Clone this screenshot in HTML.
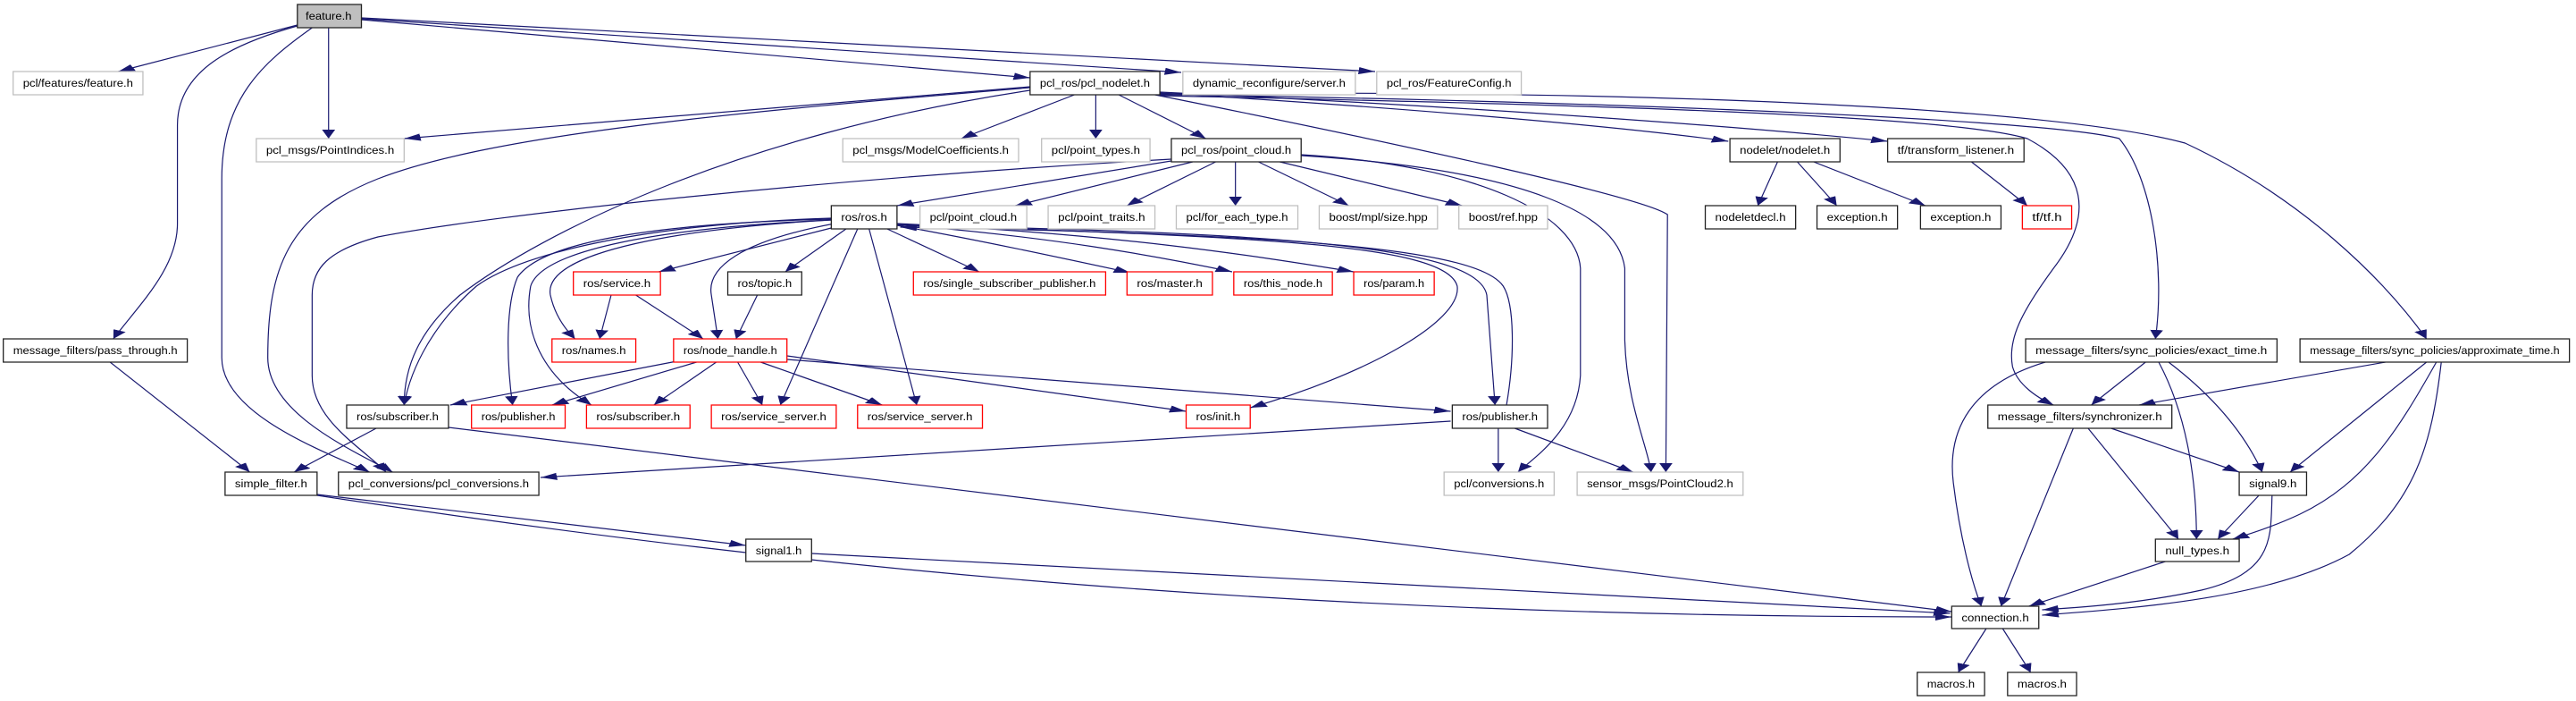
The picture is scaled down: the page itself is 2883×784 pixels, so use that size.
<!DOCTYPE html>
<html><head><meta charset="utf-8"><style>
html,body{margin:0;padding:0;background:#fff}
svg{display:block}
text{font-family:"Liberation Sans",Arial,sans-serif;font-size:12px;fill:#000}
.e path{fill:none;stroke:#191970;stroke-width:1.2;vector-effect:non-scaling-stroke}
rect{vector-effect:non-scaling-stroke;stroke-width:1.3}
.b{fill:#fff;stroke:#222}
.g{fill:#fff;stroke:#bfbfbf}
.r{fill:#fff;stroke:#ff0000}
.f{fill:#bfbfbf;stroke:#222}
</style></head><body>
<svg width="2883" height="784" viewBox="0 0 1568 784" preserveAspectRatio="none" xmlns="http://www.w3.org/2000/svg">
<defs><marker id="a" markerUnits="userSpaceOnUse" markerWidth="12" markerHeight="10" refX="10" refY="4" orient="auto"><path d="M0,0 L10,4 L0,8 Z" fill="#191970" stroke="none"/></marker></defs>
<g class="e" marker-end="url(#a)">
<path d="M181,28 L72,80"/>
<path d="M181,29 C140,50 108,80 108,140 L108,250 C108,300 85,340 69,379"/>
<path d="M190,31 C160,70 135,110 135,200 L135,400 C135,460 190,500 225,528"/>
<path d="M200,31 L200,155"/>
<path d="M220,22 L627,87"/>
<path d="M220,21 L719,81"/>
<path d="M220,20 L837,80"/>
<path d="M627,97 L246,155"/>
<path d="M654,106 L585,155"/>
<path d="M667,106 L667,155"/>
<path d="M681,106 L734,155"/>
<path d="M627,101 C450,150 330,260 280,330 C255,370 246,410 246,453"/>
<path d="M627,98 C450,125 300,150 230,200 C175,240 163,300 163,400 C163,460 210,500 239,528"/>
<path d="M713,178 C500,200 300,240 230,265 C200,280 190,300 190,330 L190,420 C190,470 220,500 235,528"/>
<path d="M703,106 C850,160 1000,220 1015,240 L1014,528"/>
<path d="M706,104 C850,120 980,140 1052,158"/>
<path d="M706,103 C900,120 1050,140 1149,158"/>
<path d="M706,107 C900,115 1180,125 1234,155 C1270,190 1275,240 1250,300 C1230,350 1222,380 1225,410 C1228,430 1240,445 1250,453"/>
<path d="M706,106 C900,110 1240,130 1290,155 C1310,200 1318,300 1312,379"/>
<path d="M706,105 C1000,100 1250,120 1330,160 C1400,220 1450,310 1477,379"/>
<path d="M713,180 L546,230"/>
<path d="M726,181 L618,230"/>
<path d="M740,181 L686,230"/>
<path d="M752,181 L752,230"/>
<path d="M766,181 L821,230"/>
<path d="M779,181 L890,230"/>
<path d="M792,173 C900,185 960,240 962,300 L962,420 C960,480 935,510 924,528"/>
<path d="M792,174 C930,190 985,240 989,300 L989,380 C990,450 1003,500 1005,528"/>
<path d="M506,255 L401,304"/>
<path d="M515,256 L478,304"/>
<path d="M506,246 C420,255 330,280 335,330 C338,355 345,370 350,379"/>
<path d="M508,250 C450,270 430,300 433,330 L437,379"/>
<path d="M522,256 L475,453"/>
<path d="M529,256 C540,330 550,400 558,453"/>
<path d="M540,256 L596,304"/>
<path d="M546,252 C600,270 650,290 688,305"/>
<path d="M546,251 C640,265 700,285 750,304"/>
<path d="M546,250 C680,262 760,285 824,304"/>
<path d="M546,251 C750,265 880,270 887,320 C890,360 830,420 761,456"/>
<path d="M546,252 C800,260 900,280 905,330 L910,453"/>
<path d="M917,453 C922,400 922,340 915,320 C900,280 800,262 548,254"/>
<path d="M506,244 C400,250 320,280 290,320 C265,360 250,410 246,453"/>
<path d="M506,245 C400,250 330,270 315,310 C308,340 308,400 312,453"/>
<path d="M506,246 C400,255 330,280 323,320 C318,370 330,420 360,453"/>
<path d="M372,330 L365,379"/>
<path d="M387,330 L428,379"/>
<path d="M461,330 L448,379"/>
<path d="M412,404 L274,453"/>
<path d="M424,405 L336,453"/>
<path d="M436,405 L398,453"/>
<path d="M449,405 L464,453"/>
<path d="M463,405 L537,453"/>
<path d="M479,398 L722,460"/>
<path d="M479,402 L883,460"/>
<path d="M229,479 L179,528"/>
<path d="M273,478 L1188,684"/>
<path d="M883,471 L329,534"/>
<path d="M912,479 L912,528"/>
<path d="M922,479 L994,528"/>
<path d="M67,405 L152,528"/>
<path d="M193,553 L454,610"/>
<path d="M193,554 C500,640 800,690 1188,690"/>
<path d="M494,619 L1187,686"/>
<path d="M1306,405 L1273,453"/>
<path d="M1245,405 C1200,430 1185,480 1189,540 C1193,600 1200,650 1206,678"/>
<path d="M1314,405 C1330,460 1337,530 1337,603"/>
<path d="M1320,405 C1345,440 1365,480 1377,528"/>
<path d="M1452,405 L1302,453"/>
<path d="M1477,405 L1394,528"/>
<path d="M1483,405 C1460,480 1440,540 1400,575 C1385,588 1370,597 1359,603"/>
<path d="M1486,405 C1480,500 1470,560 1430,620 C1380,670 1300,680 1243,688"/>
<path d="M1262,479 L1218,678"/>
<path d="M1271,479 L1326,603"/>
<path d="M1285,479 L1363,528"/>
<path d="M1375,554 L1350,603"/>
<path d="M1383,554 C1382,600 1385,640 1340,660 C1310,672 1280,678 1243,682"/>
<path d="M1318,628 L1235,678"/>
<path d="M1209,703 L1192,752"/>
<path d="M1219,703 L1236,752"/>
<path d="M1082,181 L1070,230"/>
<path d="M1094,181 L1118,230"/>
<path d="M1104,181 L1172,230"/>
<path d="M1200,181 L1234,230"/>
</g>
<g>
<rect class="f" x="181" y="5" width="39" height="26"/><text x="186" y="22" textLength="28" lengthAdjust="spacingAndGlyphs">feature.h</text>
<rect class="g" x="8" y="80" width="79" height="26"/><text x="14" y="97" textLength="67" lengthAdjust="spacingAndGlyphs">pcl/features/feature.h</text>
<rect class="g" x="156" y="155" width="90" height="26"/><text x="162" y="172" textLength="78" lengthAdjust="spacingAndGlyphs">pcl_msgs/PointIndices.h</text>
<rect class="b" x="2" y="379" width="112" height="26"/><text x="8" y="396" textLength="100" lengthAdjust="spacingAndGlyphs">message_filters/pass_through.h</text>
<rect class="b" x="627" y="80" width="79" height="26"/><text x="633" y="97" textLength="67" lengthAdjust="spacingAndGlyphs">pcl_ros/pcl_nodelet.h</text>
<rect class="g" x="720" y="80" width="105" height="26"/><text x="726" y="97" textLength="93" lengthAdjust="spacingAndGlyphs">dynamic_reconfigure/server.h</text>
<rect class="g" x="838" y="80" width="88" height="26"/><text x="844" y="97" textLength="76" lengthAdjust="spacingAndGlyphs">pcl_ros/FeatureConfig.h</text>
<rect class="g" x="513" y="155" width="107" height="26"/><text x="519" y="172" textLength="95" lengthAdjust="spacingAndGlyphs">pcl_msgs/ModelCoefficients.h</text>
<rect class="g" x="634" y="155" width="66" height="26"/><text x="640" y="172" textLength="54" lengthAdjust="spacingAndGlyphs">pcl/point_types.h</text>
<rect class="b" x="713" y="155" width="79" height="26"/><text x="719" y="172" textLength="67" lengthAdjust="spacingAndGlyphs">pcl_ros/point_cloud.h</text>
<rect class="b" x="1053" y="155" width="67" height="26"/><text x="1059" y="172" textLength="55" lengthAdjust="spacingAndGlyphs">nodelet/nodelet.h</text>
<rect class="b" x="1149" y="155" width="83" height="26"/><text x="1155" y="172" textLength="71" lengthAdjust="spacingAndGlyphs">tf/transform_listener.h</text>
<rect class="b" x="506" y="230" width="40" height="26"/><text x="512" y="247" textLength="28" lengthAdjust="spacingAndGlyphs">ros/ros.h</text>
<rect class="g" x="560" y="230" width="65" height="26"/><text x="566" y="247" textLength="53" lengthAdjust="spacingAndGlyphs">pcl/point_cloud.h</text>
<rect class="g" x="638" y="230" width="65" height="26"/><text x="644" y="247" textLength="53" lengthAdjust="spacingAndGlyphs">pcl/point_traits.h</text>
<rect class="g" x="716" y="230" width="74" height="26"/><text x="722" y="247" textLength="62" lengthAdjust="spacingAndGlyphs">pcl/for_each_type.h</text>
<rect class="g" x="803" y="230" width="72" height="26"/><text x="809" y="247" textLength="60" lengthAdjust="spacingAndGlyphs">boost/mpl/size.hpp</text>
<rect class="g" x="888" y="230" width="54" height="26"/><text x="894" y="247" textLength="42" lengthAdjust="spacingAndGlyphs">boost/ref.hpp</text>
<rect class="b" x="1038" y="230" width="55" height="26"/><text x="1044" y="247" textLength="43" lengthAdjust="spacingAndGlyphs">nodeletdecl.h</text>
<rect class="b" x="1106" y="230" width="49" height="26"/><text x="1112" y="247" textLength="37" lengthAdjust="spacingAndGlyphs">exception.h</text>
<rect class="b" x="1169" y="230" width="49" height="26"/><text x="1175" y="247" textLength="37" lengthAdjust="spacingAndGlyphs">exception.h</text>
<rect class="r" x="1231" y="230" width="30" height="26"/><text x="1237" y="247" textLength="18" lengthAdjust="spacingAndGlyphs">tf/tf.h</text>
<rect class="r" x="349" y="304" width="53" height="26"/><text x="355" y="321" textLength="41" lengthAdjust="spacingAndGlyphs">ros/service.h</text>
<rect class="b" x="443" y="304" width="45" height="26"/><text x="449" y="321" textLength="33" lengthAdjust="spacingAndGlyphs">ros/topic.h</text>
<rect class="r" x="556" y="304" width="117" height="26"/><text x="562" y="321" textLength="105" lengthAdjust="spacingAndGlyphs">ros/single_subscriber_publisher.h</text>
<rect class="r" x="686" y="304" width="52" height="26"/><text x="692" y="321" textLength="40" lengthAdjust="spacingAndGlyphs">ros/master.h</text>
<rect class="r" x="751" y="304" width="60" height="26"/><text x="757" y="321" textLength="48" lengthAdjust="spacingAndGlyphs">ros/this_node.h</text>
<rect class="r" x="824" y="304" width="49" height="26"/><text x="830" y="321" textLength="37" lengthAdjust="spacingAndGlyphs">ros/param.h</text>
<rect class="r" x="336" y="379" width="51" height="26"/><text x="342" y="396" textLength="39" lengthAdjust="spacingAndGlyphs">ros/names.h</text>
<rect class="r" x="410" y="379" width="69" height="26"/><text x="416" y="396" textLength="57" lengthAdjust="spacingAndGlyphs">ros/node_handle.h</text>
<rect class="b" x="1233" y="379" width="153" height="26"/><text x="1239" y="396" textLength="141" lengthAdjust="spacingAndGlyphs">message_filters/sync_policies/exact_time.h</text>
<rect class="b" x="1400" y="379" width="164" height="26"/><text x="1406" y="396" textLength="152" lengthAdjust="spacingAndGlyphs">message_filters/sync_policies/approximate_time.h</text>
<rect class="b" x="211" y="453" width="62" height="26"/><text x="217" y="470" textLength="50" lengthAdjust="spacingAndGlyphs">ros/subscriber.h</text>
<rect class="r" x="287" y="453" width="57" height="26"/><text x="293" y="470" textLength="45" lengthAdjust="spacingAndGlyphs">ros/publisher.h</text>
<rect class="r" x="357" y="453" width="63" height="26"/><text x="363" y="470" textLength="51" lengthAdjust="spacingAndGlyphs">ros/subscriber.h</text>
<rect class="r" x="433" y="453" width="76" height="26"/><text x="439" y="470" textLength="64" lengthAdjust="spacingAndGlyphs">ros/service_server.h</text>
<rect class="r" x="522" y="453" width="76" height="26"/><text x="528" y="470" textLength="64" lengthAdjust="spacingAndGlyphs">ros/service_server.h</text>
<rect class="r" x="722" y="453" width="39" height="26"/><text x="728" y="470" textLength="27" lengthAdjust="spacingAndGlyphs">ros/init.h</text>
<rect class="b" x="884" y="453" width="58" height="26"/><text x="890" y="470" textLength="46" lengthAdjust="spacingAndGlyphs">ros/publisher.h</text>
<rect class="b" x="1210" y="453" width="112" height="26"/><text x="1216" y="470" textLength="100" lengthAdjust="spacingAndGlyphs">message_filters/synchronizer.h</text>
<rect class="b" x="137" y="528" width="56" height="26"/><text x="143" y="545" textLength="44" lengthAdjust="spacingAndGlyphs">simple_filter.h</text>
<rect class="b" x="206" y="528" width="122" height="26"/><text x="212" y="545" textLength="110" lengthAdjust="spacingAndGlyphs">pcl_conversions/pcl_conversions.h</text>
<rect class="g" x="879" y="528" width="67" height="26"/><text x="885" y="545" textLength="55" lengthAdjust="spacingAndGlyphs">pcl/conversions.h</text>
<rect class="g" x="960" y="528" width="101" height="26"/><text x="966" y="545" textLength="89" lengthAdjust="spacingAndGlyphs">sensor_msgs/PointCloud2.h</text>
<rect class="b" x="1363" y="528" width="41" height="26"/><text x="1369" y="545" textLength="29" lengthAdjust="spacingAndGlyphs">signal9.h</text>
<rect class="b" x="454" y="603" width="40" height="25"/><text x="460" y="620" textLength="28" lengthAdjust="spacingAndGlyphs">signal1.h</text>
<rect class="b" x="1312" y="603" width="51" height="25"/><text x="1318" y="620" textLength="39" lengthAdjust="spacingAndGlyphs">null_types.h</text>
<rect class="b" x="1188" y="678" width="53" height="25"/><text x="1194" y="695" textLength="41" lengthAdjust="spacingAndGlyphs">connection.h</text>
<rect class="b" x="1167" y="752" width="41" height="26"/><text x="1173" y="769" textLength="29" lengthAdjust="spacingAndGlyphs">macros.h</text>
<rect class="b" x="1222" y="752" width="42" height="26"/><text x="1228" y="769" textLength="30" lengthAdjust="spacingAndGlyphs">macros.h</text>
</g>
</svg>
</body></html>
